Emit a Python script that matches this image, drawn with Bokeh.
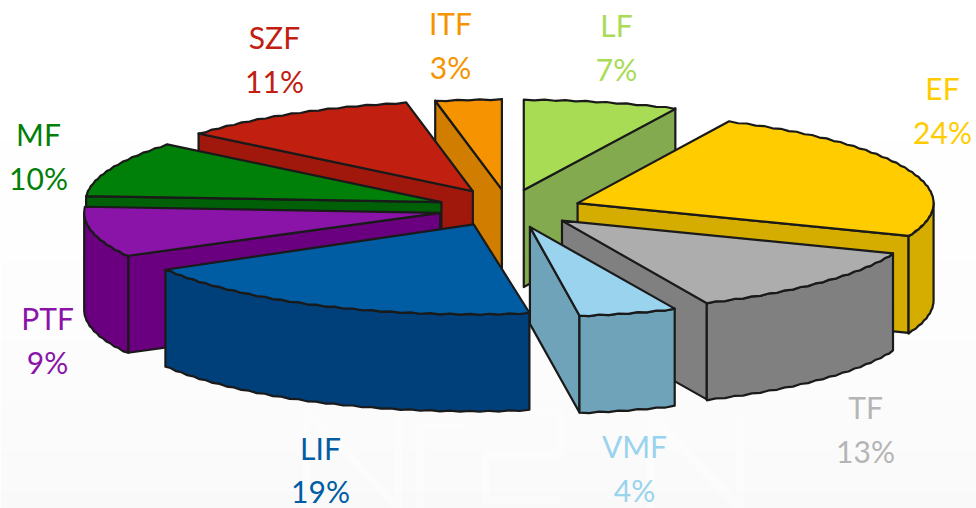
import math
from bokeh.plotting import figure
from bokeh.embed import file_html
from bokeh.resources import INLINE
from bokeh.core.properties import value

# data (clockwise from 12 o'clock)
categories = ["LF", "EF", "TF", "VMF", "LIF", "PTF", "MF", "SZF", "ITF"]
shares = [7, 24, 13, 4, 19, 9, 10, 11, 3]

# styles
top_colors = ["#A8DC55", "#FFCC00", "#ADADAD", "#99D3EE", "#005DA3", "#8A14A8", "#008008", "#C12010", "#F59400"]
side_colors = ["#84AA50", "#D4AD00", "#808080", "#6FA3BA", "#00407A", "#6A0080", "#006008", "#A0180C", "#D07D00"]
label_colors = ["#A8DC55", "#FFCC00", "#B5B5B5", "#99D3EE", "#005DA3", "#8A14A8", "#008008", "#C12010", "#F59400"]
# label anchor: centre x, name middle, value middle (page pixels)
label_x = [616, 942, 865, 634, 320, 47, 38, 274, 450]
name_y = [24, 87, 406, 445, 447, 317, 133, 36, 22]
pct_y = [68, 131, 450, 489, 490, 361, 177, 80, 66]
draw_order = ["LF", "ITF", "SZF", "EF", "MF", "TF", "PTF", "VMF", "LIF"]
# per-slice fine placement
shift_x = [0, 4, 4, 4, -3, 0, -2, 0, 0]
shift_y = [1, 2, -2, -1, -2, 0, 1, 0, 1]
nudge_start = [0, 0, 0, 2.4, 1.8, 0, 0, 0, 0]
nudge_end = [0, 0, 2.4, 0.8, 1.2, 0, 0, 0, 0]

CX, CY, RX, RY, DEPTH, EX, EY = 508, 208, 356, 90, 97, 70, 20
INK = "#1a1a1a"

p = figure(width=976, height=508, x_range=(0, 976), y_range=(508, 0),
           toolbar_location=None, output_backend="svg", min_border=0)
p.xaxis.visible = False
p.yaxis.visible = False
p.grid.visible = False
p.outline_line_color = None
p.background_fill_color = "#ffffff"
p.border_fill_color = None

# soft background gradient
bands = [(140, "#fefefe"), (260, "#fdfdfd"), (340, "#fcfcfc"), (400, "#fbfbfb"), (450, "#fafafa"), (490, "#f9f9f9")]
for i, (y0, c) in enumerate(bands):
    y1 = bands[i + 1][0] if i + 1 < len(bands) else 508
    p.quad(left=0, right=976, top=y0, bottom=y1, fill_color=c, line_color=None)

# faint watermark strokes
for xs, ys in [([306, 306, 398, 398], [508, 410, 508, 410]),
               ([420, 420, 470], [508, 425, 425]),
               ([485, 560, 560, 485, 485, 560], [410, 410, 455, 455, 500, 500]),
               ([650, 650, 740, 740], [508, 415, 508, 415])]:
    p.line(xs, ys, line_color="#ffffff", line_width=8, line_alpha=0.35)


def rim(theta, ox, oy, i=0):
    t = math.radians(theta)
    wob = 0.45 * (1 if i % 2 else -1)
    return ox + RX * math.cos(t), oy - RY * math.sin(t) + wob


def arc(a, b, ox, oy):
    """a > b, degrees, walking clockwise"""
    n = max(2, int(abs(a - b) / 1.6))
    return [rim(a + (b - a) * k / n, ox, oy, k) for k in range(n + 1)]


slices = {}
a = 90.0
for name, share in zip(categories, shares):
    b = a - share * 3.6
    slices[name] = (a, b)
    a = b

for name in draw_order:
    i = categories.index(name)
    a, b = slices[name]
    mid = math.radians((a + b) / 2)
    ox = CX + EX * math.cos(mid) + shift_x[i]
    oy = CY - EY * math.sin(mid) + shift_y[i]
    a += nudge_start[i]
    b += nudge_end[i]
    top, side = top_colors[i], side_colors[i]
    style = dict(fill_color=side, line_color=INK, line_width=2.2, line_join="round")

    # radial walls, when they face the viewer
    mx, my = RX * math.cos(mid), -RY * math.sin(mid)
    for th in (a, b):
        ex, ey = rim(th, ox, oy)
        dx, dy = ex - ox, ey - oy
        nx, ny = -dy, dx
        if nx * mx + ny * my > 0:
            nx, ny = -nx, -ny
        if ny > 0:
            p.patch([ox, ex, ex, ox], [oy, ey, ey + DEPTH, oy + DEPTH], **style)

    # outer wall on the front half of the ellipse (angles 0 to -180)
    fa, fb = min(a, 0), max(b, -180)
    if fa > fb:
        pts = arc(fa, fb, ox, oy)
        xs = [q[0] for q in pts] + [q[0] for q in reversed(pts)]
        ys = [q[1] for q in pts] + [q[1] + DEPTH for q in reversed(pts)]
        p.patch(xs, ys, **style)

    # top face
    pts = arc(a, b, ox, oy)
    p.patch([ox] + [q[0] for q in pts], [oy] + [q[1] for q in pts],
            fill_color=top, line_color=INK, line_width=2.2, line_join="round")

# labels
for i, name in enumerate(categories):
    for txt, yy in ((name, name_y[i]), (f"{shares[i]}%", pct_y[i])):
        p.text([label_x[i]], [yy], text=[txt], text_font=value("Lato"), text_font_size="30px",
               text_color=label_colors[i], text_align="center", text_baseline="middle")

open("out.html", "w").write(file_html(p, INLINE))
